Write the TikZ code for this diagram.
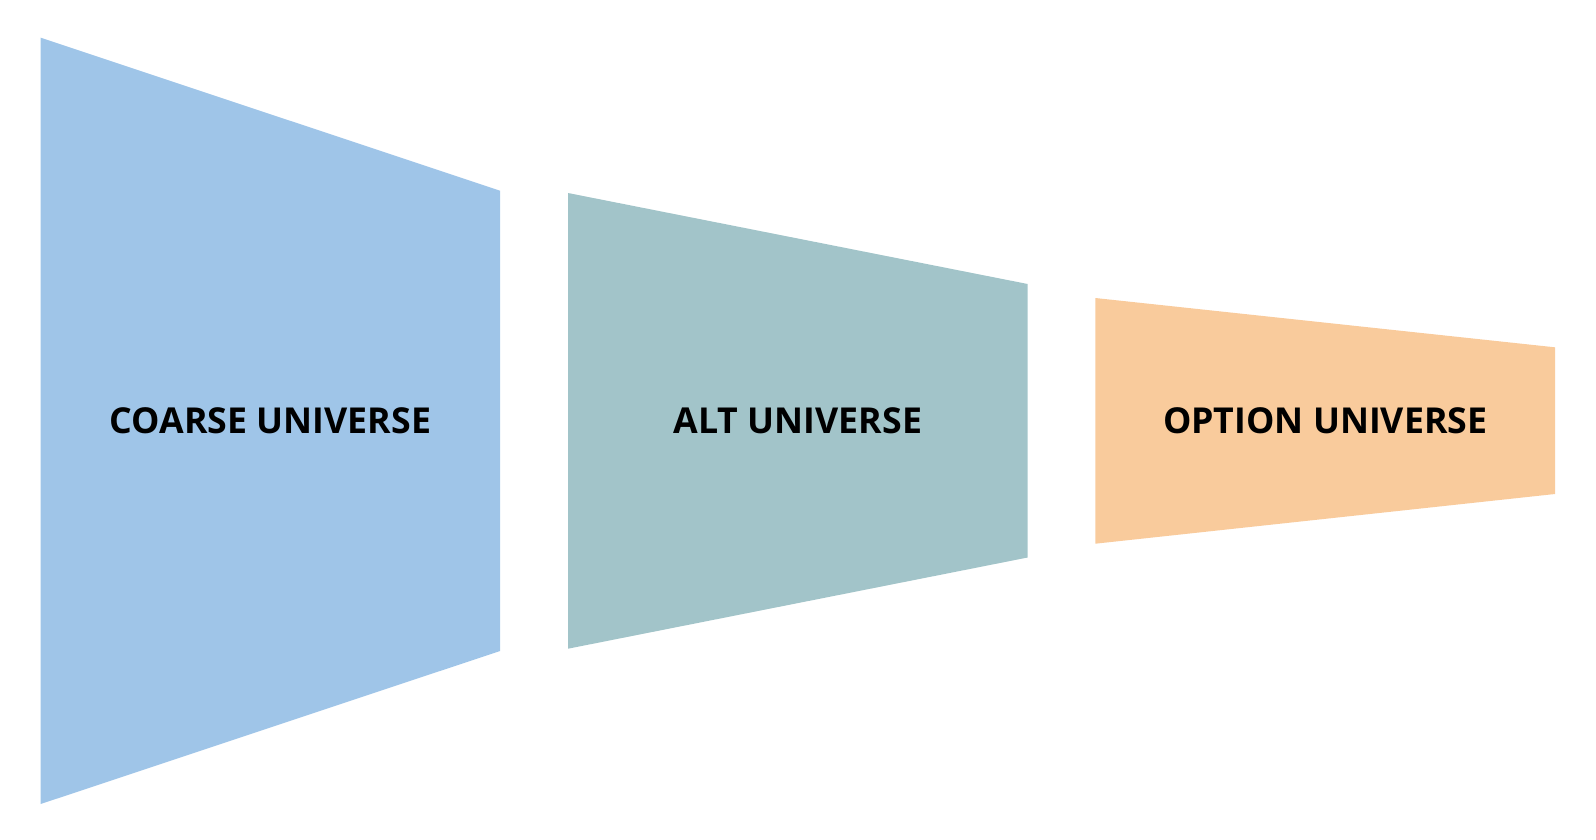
\documentclass[tikz,border=0pt]{standalone}
\usepackage{fontspec}
\setmainfont{Open Sans}
\definecolor{cblue}{HTML}{9FC5E8}
\definecolor{cteal}{HTML}{A2C4C9}
\definecolor{corange}{HTML}{F9CB9C}
\begin{document}
\begin{tikzpicture}[x=1pt,y=-1pt,
  lbl/.style={font=\fontsize{35.7}{43}\selectfont\bfseries, text=black, inner sep=0pt, anchor=base}]
\useasboundingbox (0,0) rectangle (1596,839);
\fill[cblue] (40.7,37.7) -- (500,190.7) -- (500,651) -- (40.7,804) -- cycle;
\fill[cteal] (568,193) -- (1027.7,284) -- (1027.7,557.5) -- (568,648.7) -- cycle;
\fill[corange] (1095.3,298) -- (1555,347.3) -- (1555,494) -- (1095.3,543.7) -- cycle;
\node[lbl] (coarse) at (270.5,433.3) {COARSE UNIVERSE};
\node[lbl] (alt) at (798,433.3) {ALT UNIVERSE};
\node[lbl] (option) at (1325.2,433.3) {OPTION UNIVERSE};
\end{tikzpicture}
\end{document}
